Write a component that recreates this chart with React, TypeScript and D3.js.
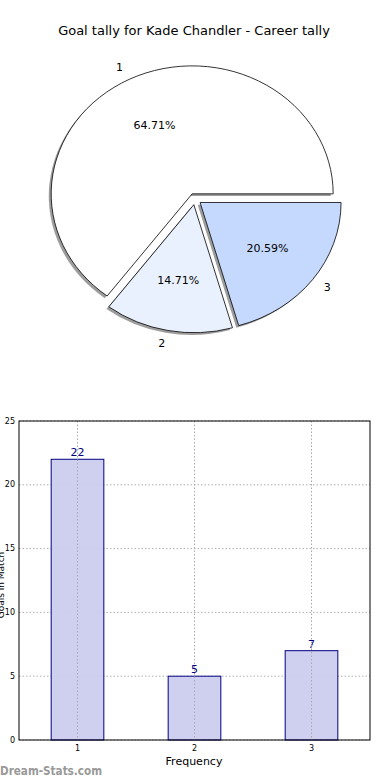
import React from "react";
import * as d3 from "d3";

const title = "Goal tally for Kade Chandler - Career tally";
const categories = ["1", "2", "3"];
const values = [22, 5, 7];
const pieColors = ["#ffffff", "#eaf1fe", "#c5d9fe"];
const yTicks = [0, 5, 10, 15, 20, 25];
const xLabel = "Frequency";
const yLabel = "Goals in Match";
const watermark = "Dream-Stats.com";

const FONT = "DejaVu Sans, Verdana, sans-serif";

export default function App() {
  // pie geometry
  const cx = 195, cy = 199, rx = 141, ry = 128, explode = 0.045;
  const pie = d3.pie<number>().sort(null).startAngle(Math.PI / 2).endAngle(Math.PI / 2 - 2 * Math.PI);
  const arcs = pie(values);
  const arcGen = d3.arc<any>().innerRadius(0).outerRadius(1);
  const total = d3.sum(values);

  // bar geometry
  const x = d3.scaleLinear().domain([0.5, 3.5]).range([19, 370]);
  const y = d3.scaleLinear().domain([0, 25]).range([740, 421]);
  const bw = x(1.45) - x(1);

  return (
    <svg width={390} height={780} style={{ position: "absolute", left: 0, top: 0, background: "#fff" }} fontFamily={FONT}>
      <text x={194} y={35} textAnchor="middle" fontSize={13} fill="#000">{title}</text>
      {/* shadows */}
      {arcs.map((a, i) => {
        const mid = (a.startAngle + a.endAngle) / 2;
        const ox = cx + explode * rx * Math.sin(mid) - 2.4;
        const oy = cy - explode * ry * Math.cos(mid) + 2.2;
        return (
          <path key={"s" + i} d={arcGen(a) as string} transform={`translate(${ox},${oy}) scale(${rx},${ry})`} fill="#4d4d4d" opacity={0.55} />
        );
      })}
      {arcs.map((a, i) => {
        const mid = (a.startAngle + a.endAngle) / 2;
        const ox = cx + explode * rx * Math.sin(mid);
        const oy = cy - explode * ry * Math.cos(mid);
        return (
          <path key={"p" + i} d={arcGen(a) as string} transform={`translate(${ox},${oy}) scale(${rx},${ry})`} fill={pieColors[i]} stroke="#000" strokeWidth={0.8} vectorEffect="non-scaling-stroke" />
        );
      })}
      {arcs.map((a, i) => {
        const mid = (a.startAngle + a.endAngle) / 2;
        const ox = cx + explode * rx * Math.sin(mid);
        const oy = cy - explode * ry * Math.cos(mid);
        const lx = ox + 1.1 * rx * Math.sin(mid);
        const ly = oy - 1.1 * ry * Math.cos(mid);
        const px = ox + 0.6 * rx * Math.sin(mid);
        const py = oy - 0.6 * ry * Math.cos(mid);
        return (
          <g key={"t" + i} fontSize={11} fill="#000">
            <text x={lx} y={ly} textAnchor={Math.sin(mid) > 0 ? "start" : "end"} dominantBaseline="central">{categories[i]}</text>
            <text x={px} y={py} textAnchor="middle" dominantBaseline="central">{((values[i] / total) * 100).toFixed(2)}%</text>
          </g>
        );
      })}

      {/* bar chart */}
      <rect x={19} y={421} width={351} height={319} fill="#fff" />
      {yTicks.map((t) => (
        <line key={"gy" + t} x1={19} x2={370} y1={y(t)} y2={y(t)} stroke="#b0b0b0" strokeDasharray="1.5,2" />
      ))}
      {values.map((v, i) => (
        <g key={"b" + i}>
          <rect x={x(i + 1) - bw / 2} y={y(v)} width={bw} height={y(0) - y(v)} fill="#ccccee" fillOpacity={0.95} stroke="#000080" strokeWidth={1} />
          <text x={x(i + 1)} y={y(v) - 3} textAnchor="middle" fontSize={11} fill="#000080">{v}</text>
        </g>
      ))}
      {categories.map((c, i) => (
        <line key={"gx" + c} x1={x(i + 1)} x2={x(i + 1)} y1={421} y2={740} stroke="#a8a8a8" strokeDasharray="1.5,2" />
      ))}
      <rect x={19} y={421} width={351} height={319} fill="none" stroke="#000" strokeWidth={1} />
      {yTicks.map((t) => (
        <text key={"ty" + t} x={15} y={y(t)} textAnchor="end" dominantBaseline="central" fontSize={8} fill="#000">{t}</text>
      ))}
      {categories.map((c, i) => (
        <text key={"tx" + c} x={x(i + 1)} y={748} textAnchor="middle" dominantBaseline="central" fontSize={8} fill="#000">{c}</text>
      ))}
      <text x={194} y={765} textAnchor="middle" fontSize={11} fill="#000">{xLabel}</text>
      <text transform={`translate(4,585) rotate(-90)`} textAnchor="middle" fontSize={9} fill="#000">{yLabel}</text>
      <text x={0} y={775} fontSize={12} fontWeight="bold" fill="#999" textLength={102} lengthAdjust="spacingAndGlyphs">{watermark}</text>
    </svg>
  );
}
